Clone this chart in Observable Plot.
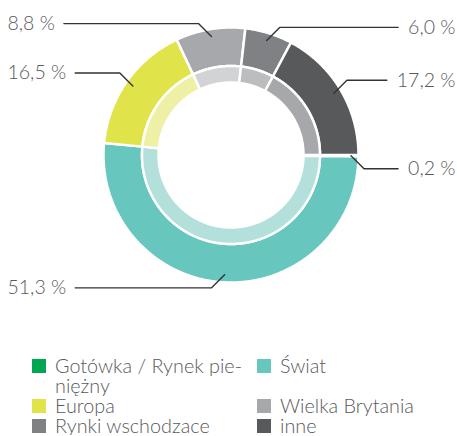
<!DOCTYPE html>
<html>
<head>
<meta charset="utf-8">
<script src="https://cdn.jsdelivr.net/npm/d3@7"></script>
<script src="https://cdn.jsdelivr.net/npm/@observablehq/plot@0.6"></script>
<style>
  body { margin: 0; background: #fff; font-family: Lato, "Open Sans", sans-serif; }
  #chart svg { display: block; }
  #legend {
    display: grid;
    grid-template-columns: 225px 200px;
    margin-left: 32px;
    margin-top: 15px;
    font-size: 19.8px;
    line-height: 20px;
    font-weight: 300;
    color: #58595b;
  }
  .item { display: flex; align-items: flex-start; }
  .item span.txt { max-width: 195px; }
  .sw { width: 14px; height: 14px; margin-top: 4px; margin-right: 9px; flex: none; }
</style>
</head>
<body>
<div id="chart"></div>
<div id="legend"></div>
<script>
// ---- data ----
const categories = ["Gotówka / Rynek pie\u00ADniężny", "Świat", "Europa", "Wielka Brytania", "Rynki wschodzace", "inne"];
const values = [0.2, 51.3, 16.5, 8.8, 6.0, 17.2];
const valueLabels = ["0,2 %", "51,3 %", "16,5 %", "8,8 %", "6,0 %", "17,2 %"];

// ---- styles / layout ----
const outerPalette = ["#00a651", "#67c6bd", "#e1e34a", "#a7a8ab", "#808184", "#58595b"];
const innerPalette = ["#80d3a8", "#b4e0dc", "#eef0a6", "#d2d3d5", "#bcbdbf", "#a7a8ab"];
const W = 457, H = 340, cx = 230.5, cy = 154.5;
const R_OUT = 127.5, R_MID = 89, R_IN = 72.5, R_ANCHOR = 120;
const startDeg = 90;
const labelFont = "300 19.5px Lato";

const total = d3.sum(values);
let acc = startDeg;
const slices = values.map((v, i) => {
  const a0 = acc; acc += v / total * 360;
  return {i, cat: categories[i], label: valueLabels[i], a0, a1: acc, mid: (a0 + acc) / 2};
});
const rad = d => d * Math.PI / 180;
const polar = (r, deg) => ({x: r * Math.sin(rad(deg)), y: r * Math.cos(rad(deg))});

function ring(r0, r1, palette, tag) {
  const pts = [];
  for (const s of slices) {
    const n = Math.max(2, Math.ceil((s.a1 - s.a0) / 0.5));
    const poly = [];
    for (let k = 0; k <= n; k++) poly.push(polar(r1, s.a0 + (s.a1 - s.a0) * k / n));
    for (let k = n; k >= 0; k--) poly.push(polar(r0, s.a0 + (s.a1 - s.a0) * k / n));
    poly.push(poly[0]);
    for (const p of poly) pts.push({...p, key: tag + s.i, color: palette[s.i]});
  }
  return pts;
}
const outerPts = ring(R_MID, R_OUT, outerPalette, "o");
const innerPts = ring(R_IN, R_MID, innerPalette, "i");

// label leaders
const ctx = document.createElement("canvas").getContext("2d");
ctx.font = labelFont;
const leaders = [], texts = [];
for (const s of slices) {
  const a = polar(R_ANCHOR, s.mid);
  const sx = a.x < 0 ? -1 : 1;
  const sy = a.y > 0 ? 1 : -1;
  const e = {x: a.x + 13 * sx, y: a.y + 13 * sy};
  const w = ctx.measureText(s.label).width;
  let endPx, textPx, anchor;
  if (sx < 0) { textPx = 7; endPx = 7 + w + 9; anchor = "start"; }
  else { textPx = 455; endPx = 455 - w - 10; anchor = "end"; }
  const endX = endPx - cx;
  leaders.push({key: s.i, x: a.x, y: a.y}, {key: s.i, x: e.x, y: e.y}, {key: s.i, x: endX, y: e.y});
  texts.push({x: textPx - cx, y: e.y, text: s.label, anchor});
}

const textOpts = {x: "x", y: "y", text: "text", fontSize: 19.5, fontWeight: 300, fontFamily: "Lato", fill: "#58595b"};
const plot = Plot.plot({
  width: W, height: H,
  margin: 0,
  x: {domain: [-cx, W - cx], range: [0, W], axis: null},
  y: {domain: [-(H - cy), cy], range: [H, 0], axis: null},
  color: {type: "identity"},
  marks: [
    Plot.line(outerPts, {x: "x", y: "y", z: "key", fill: "color", stroke: "white", strokeWidth: 2.5, strokeLinejoin: "miter", curve: "linear"}),
    Plot.line(innerPts, {x: "x", y: "y", z: "key", fill: "color", stroke: "white", strokeWidth: 2.5, strokeLinejoin: "miter", curve: "linear"}),
    Plot.line(leaders, {x: "x", y: "y", z: "key", stroke: "#333333", strokeWidth: 1.4, curve: "linear"}),
    Plot.text(texts.filter(t => t.anchor === "start"), {...textOpts, textAnchor: "start"}),
    Plot.text(texts.filter(t => t.anchor === "end"), {...textOpts, textAnchor: "end"})
  ]
});
document.getElementById("chart").appendChild(plot);

// legend
const legendOrder = [0, 1, 2, 3, 4, 5];
const lg = document.getElementById("legend");
for (const i of legendOrder) {
  const item = document.createElement("div");
  item.className = "item";
  item.innerHTML = `<span class="sw" style="background:${outerPalette[i]}"></span><span class="txt">${categories[i]}</span>`;
  lg.appendChild(item);
}
</script>
</body>
</html>
